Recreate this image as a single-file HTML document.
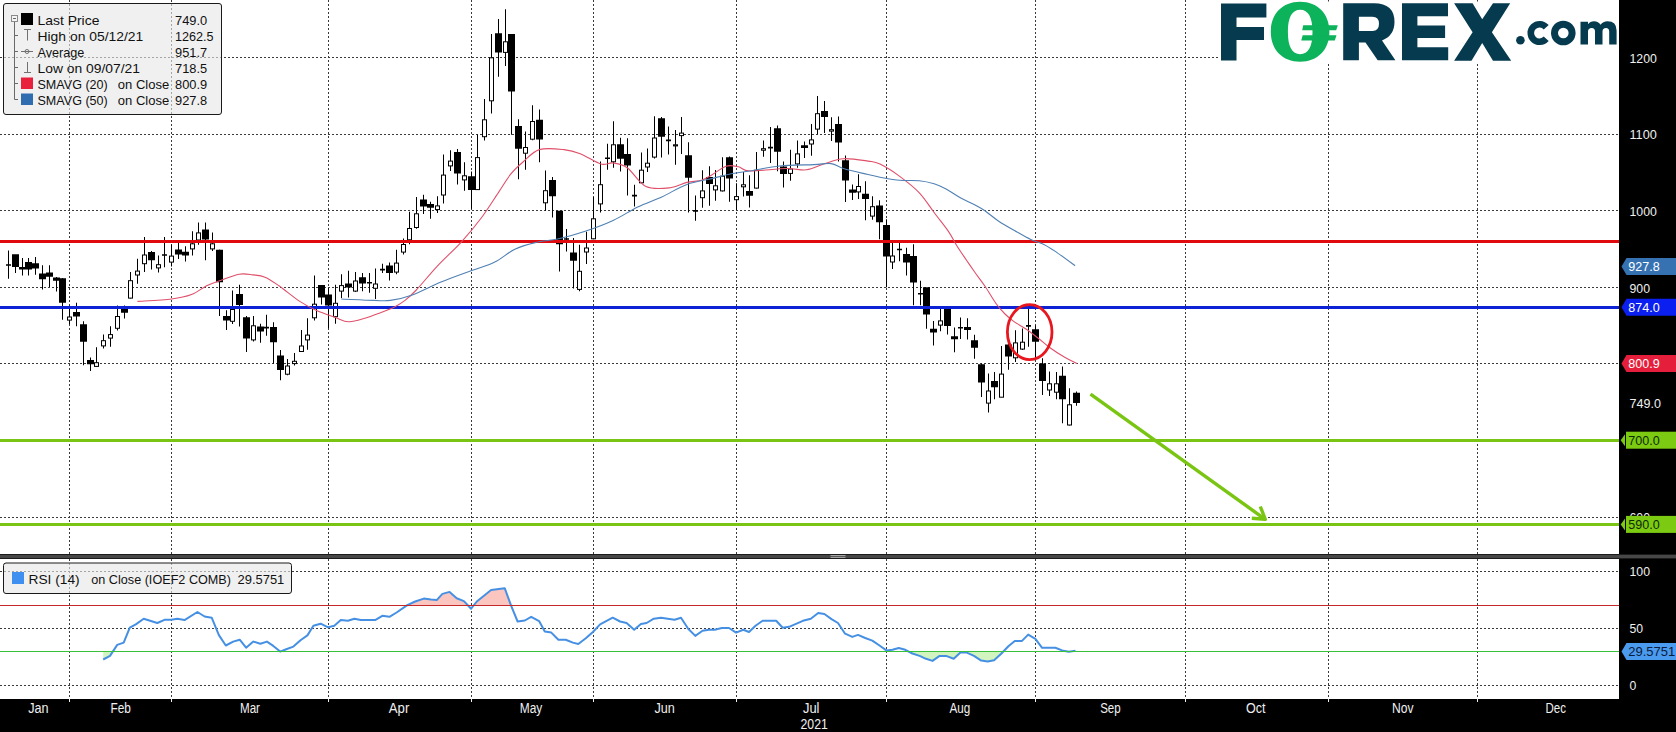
<!DOCTYPE html>
<html><head><meta charset="utf-8"><title>chart</title>
<style>html,body{margin:0;padding:0;background:#000;width:1676px;height:732px;overflow:hidden}</style>
</head><body>
<svg width="1676" height="732" viewBox="0 0 1676 732" style="display:block">
<defs><clipPath id="clipMain"><rect x="0" y="0" width="1619" height="554"/></clipPath><clipPath id="clipOver"><rect x="0" y="558" width="1619" height="47.3"/></clipPath><clipPath id="clipUnder"><rect x="0" y="651.3" width="1619" height="47"/></clipPath></defs>
<rect x="0" y="0" width="1676" height="732" fill="#000"/>
<rect x="0" y="0" width="1619" height="554" fill="#fff"/>
<rect x="0" y="559" width="1619" height="140" fill="#fff"/>
<rect x="0" y="554" width="1676" height="5" fill="#1c1c1c"/>
<rect x="0" y="555" width="1676" height="3" fill="#474747"/>
<path d="M830.5,555.6H845.5M830.5,557.4H845.5" stroke="#c8c8c8" stroke-width="0.8"/>
<path d="M69.5,0V554M69.5,559V702M171.5,0V554M171.5,559V702M328.5,0V554M328.5,559V702M471.5,0V554M471.5,559V702M593.5,0V554M593.5,559V702M736.5,0V554M736.5,559V702M886.5,0V554M886.5,559V702M1035.5,0V554M1035.5,559V702M1185.5,0V554M1185.5,559V702M1328.5,0V554M1328.5,559V702M1477.5,0V554M1477.5,559V702M0,57.5H1619M0,134.5H1619M0,210.5H1619M0,287.5H1619M0,363.5H1619M0,440.5H1619M0,517.5H1619M0,571.5H1619M0,628.5H1619M0,685.5H1619" stroke="#3a3a3a" stroke-width="1" stroke-dasharray="2,2" fill="none"/>
<path d="M69.5,699V702M171.5,699V702M328.5,699V702M471.5,699V702M593.5,699V702M736.5,699V702M886.5,699V702M1035.5,699V702M1185.5,699V702M1328.5,699V702M1477.5,699V702" stroke="#f0f0f0" stroke-width="1"/>
<polygon points="103.2,659.5 110,655.9 117.2,644.9 123.7,642.6 129.8,627.7 135.8,624.4 143.7,618.7 157.3,623 164.5,619.8 171.3,619.8 177.4,618.7 184.5,620.1 197.4,612 204.6,616.5 211.7,617.7 218.9,635.1 225.8,645.5 233.2,641.6 239.7,639.7 246.1,647.7 253.3,641.6 260.4,643.7 266.9,641.6 273.3,645.9 280.2,651.6 286.2,649.2 293.4,646.6 300.5,640.2 307.4,635.4 313.4,625.8 320.6,623.7 328.2,627.3 334.3,625.8 340.8,620.1 347.9,620.8 354.4,618.7 360.8,620.1 375.1,620.1 382.3,615.8 389.4,616.8 396.6,612.5 407.3,605.1 415.2,601.5 423.8,598.6 431,599.6 436.7,600.1 442.4,593.9 449.6,591.9 456.7,598.2 463.9,601.1 471.1,608.7 476.8,601.5 491.1,590 504.7,588.2 511.2,605.8 517.6,621.5 524.8,620.5 531.2,616.8 539.1,621.1 544.8,631.6 551.3,632.6 558.4,639.7 565.7,639.7 572.9,642.6 578.3,644 585.8,638.3 592.9,632 600.1,624.4 612.7,617.7 620.1,621.5 626.6,623 634.2,629.7 640.9,624 646.6,623 653.8,618.7 661,617.7 674.6,619.7 681,617.7 688.2,628.7 695.3,635.9 702.5,630.8 708.9,629.7 714.7,629.7 721.8,628 729,628 736.1,632.6 743.3,629.7 749,632 755.5,625.8 762.6,620.8 776.2,620.8 782.7,627.7 789.1,626.8 802.9,620.8 810.8,618.7 818.2,613 824.4,614 831.5,619.1 838,623 845.1,633.7 852.3,636.9 858,634.9 865.2,638 872.3,640.6 879.5,645.5 886.7,650.6 892.4,649.8 898.8,648 905.3,649.8 912.4,653.5 919.6,655.9 926,658.8 932.5,660.9 939.6,655.9 946.1,655.9 953.7,658.8 960.4,652.6 966.8,652.6 974,655.9 981.2,660.6 987.6,661.6 994.1,660.2 1001.2,653.8 1008.4,646.3 1014.8,640.9 1022,640.9 1028.2,634.6 1035.4,638.9 1042.1,647.8 1055.4,647.8 1062.1,650.4 1068.8,651.8 1075.5,650.7 1075.5,605.3 103.2,605.3" fill="#fbc6c0" clip-path="url(#clipOver)"/>
<polygon points="103.2,659.5 110,655.9 117.2,644.9 123.7,642.6 129.8,627.7 135.8,624.4 143.7,618.7 157.3,623 164.5,619.8 171.3,619.8 177.4,618.7 184.5,620.1 197.4,612 204.6,616.5 211.7,617.7 218.9,635.1 225.8,645.5 233.2,641.6 239.7,639.7 246.1,647.7 253.3,641.6 260.4,643.7 266.9,641.6 273.3,645.9 280.2,651.6 286.2,649.2 293.4,646.6 300.5,640.2 307.4,635.4 313.4,625.8 320.6,623.7 328.2,627.3 334.3,625.8 340.8,620.1 347.9,620.8 354.4,618.7 360.8,620.1 375.1,620.1 382.3,615.8 389.4,616.8 396.6,612.5 407.3,605.1 415.2,601.5 423.8,598.6 431,599.6 436.7,600.1 442.4,593.9 449.6,591.9 456.7,598.2 463.9,601.1 471.1,608.7 476.8,601.5 491.1,590 504.7,588.2 511.2,605.8 517.6,621.5 524.8,620.5 531.2,616.8 539.1,621.1 544.8,631.6 551.3,632.6 558.4,639.7 565.7,639.7 572.9,642.6 578.3,644 585.8,638.3 592.9,632 600.1,624.4 612.7,617.7 620.1,621.5 626.6,623 634.2,629.7 640.9,624 646.6,623 653.8,618.7 661,617.7 674.6,619.7 681,617.7 688.2,628.7 695.3,635.9 702.5,630.8 708.9,629.7 714.7,629.7 721.8,628 729,628 736.1,632.6 743.3,629.7 749,632 755.5,625.8 762.6,620.8 776.2,620.8 782.7,627.7 789.1,626.8 802.9,620.8 810.8,618.7 818.2,613 824.4,614 831.5,619.1 838,623 845.1,633.7 852.3,636.9 858,634.9 865.2,638 872.3,640.6 879.5,645.5 886.7,650.6 892.4,649.8 898.8,648 905.3,649.8 912.4,653.5 919.6,655.9 926,658.8 932.5,660.9 939.6,655.9 946.1,655.9 953.7,658.8 960.4,652.6 966.8,652.6 974,655.9 981.2,660.6 987.6,661.6 994.1,660.2 1001.2,653.8 1008.4,646.3 1014.8,640.9 1022,640.9 1028.2,634.6 1035.4,638.9 1042.1,647.8 1055.4,647.8 1062.1,650.4 1068.8,651.8 1075.5,650.7 1075.5,651.3 103.2,651.3" fill="#d2f5c0" clip-path="url(#clipUnder)"/>
<polyline points="103.2,659.5 110,655.9 117.2,644.9 123.7,642.6 129.8,627.7 135.8,624.4 143.7,618.7 157.3,623 164.5,619.8 171.3,619.8 177.4,618.7 184.5,620.1 197.4,612 204.6,616.5 211.7,617.7 218.9,635.1 225.8,645.5 233.2,641.6 239.7,639.7 246.1,647.7 253.3,641.6 260.4,643.7 266.9,641.6 273.3,645.9 280.2,651.6 286.2,649.2 293.4,646.6 300.5,640.2 307.4,635.4 313.4,625.8 320.6,623.7 328.2,627.3 334.3,625.8 340.8,620.1 347.9,620.8 354.4,618.7 360.8,620.1 375.1,620.1 382.3,615.8 389.4,616.8 396.6,612.5 407.3,605.1 415.2,601.5 423.8,598.6 431,599.6 436.7,600.1 442.4,593.9 449.6,591.9 456.7,598.2 463.9,601.1 471.1,608.7 476.8,601.5 491.1,590 504.7,588.2 511.2,605.8 517.6,621.5 524.8,620.5 531.2,616.8 539.1,621.1 544.8,631.6 551.3,632.6 558.4,639.7 565.7,639.7 572.9,642.6 578.3,644 585.8,638.3 592.9,632 600.1,624.4 612.7,617.7 620.1,621.5 626.6,623 634.2,629.7 640.9,624 646.6,623 653.8,618.7 661,617.7 674.6,619.7 681,617.7 688.2,628.7 695.3,635.9 702.5,630.8 708.9,629.7 714.7,629.7 721.8,628 729,628 736.1,632.6 743.3,629.7 749,632 755.5,625.8 762.6,620.8 776.2,620.8 782.7,627.7 789.1,626.8 802.9,620.8 810.8,618.7 818.2,613 824.4,614 831.5,619.1 838,623 845.1,633.7 852.3,636.9 858,634.9 865.2,638 872.3,640.6 879.5,645.5 886.7,650.6 892.4,649.8 898.8,648 905.3,649.8 912.4,653.5 919.6,655.9 926,658.8 932.5,660.9 939.6,655.9 946.1,655.9 953.7,658.8 960.4,652.6 966.8,652.6 974,655.9 981.2,660.6 987.6,661.6 994.1,660.2 1001.2,653.8 1008.4,646.3 1014.8,640.9 1022,640.9 1028.2,634.6 1035.4,638.9 1042.1,647.8 1055.4,647.8 1062.1,650.4 1068.8,651.8 1075.5,650.7" fill="none" stroke="#4690e4" stroke-width="2" stroke-linejoin="round"/>
<path d="M0,605.5H1619" stroke="#c42828" stroke-width="1"/>
<path d="M0,651.5H1619" stroke="#38c038" stroke-width="1"/>
<g clip-path="url(#clipMain)">
<path d="M8,250.5h1V278.8h-1ZM6,264.2h5v1.6h-5ZM15,254.2h1V273.0h-1ZM12,254.2h7v12.7h-7ZM22,258.0h1V275.5h-1ZM19,266.9h7v2.6h-7ZM28,258.0h1V275.5h-1ZM25,262.0h7v7.5h-7ZM35,257.0h1V274.7h-1ZM32,263.2h7v5.3h-7ZM42,265.2h1V289.4h-1ZM39,273.4h7v5.8h-7ZM49,265.2h1V287.0h-1ZM46,272.4h7v4.3h-7ZM56,277.0h1V291.5h-1ZM53,277.5h7v3.3h-7ZM62,278.0h1V319.8h-1ZM59,278.2h7v24.5h-7ZM69,305.8h1V324.3h-1ZM76,302.7h1V326.3h-1ZM73,312.0h7v4.5h-7ZM83,321.2h1V365.2h-1ZM80,324.3h7v17.4h-7ZM90,357.5h1V371.0h-1ZM87,360.0h7v4.2h-7ZM96,347.2h1V366.9h-1ZM103,334.5h1V348.4h-1ZM110,326.3h1V346.8h-1ZM117,305.4h1V330.4h-1ZM124,305.4h1V318.5h-1ZM121,307.9h7v4.9h-7ZM130,272.0h1V298.6h-1ZM137,258.7h1V283.7h-1ZM144,237.0h1V271.9h-1ZM151,251.0h1V269.6h-1ZM148,252.1h7v8.2h-7ZM158,255.6h1V272.6h-1ZM164,237.0h1V267.2h-1ZM162,254.2h5v1.6h-5ZM171,244.7h1V266.5h-1ZM178,242.9h1V259.1h-1ZM175,249.4h7v5.1h-7ZM185,246.3h1V261.4h-1ZM182,251.7h7v3.9h-7ZM192,231.3h1V255.6h-1ZM198,222.4h1V244.7h-1ZM205,222.4h1V260.3h-1ZM202,229.4h7v10.0h-7ZM212,232.4h1V251.0h-1ZM219,249.4h1V316.0h-1ZM216,249.8h7v32.5h-7ZM226,310.2h1V330.0h-1ZM223,316.0h7v4.6h-7ZM232,290.5h1V324.1h-1ZM239,284.7h1V326.4h-1ZM236,294.0h7v11.1h-7ZM246,316.0h1V352.0h-1ZM243,317.2h7v21.3h-7ZM253,316.0h1V341.5h-1ZM260,323.7h1V342.7h-1ZM257,326.4h7v5.2h-7ZM266,314.8h1V335.7h-1ZM264,326.8h5v1.6h-5ZM273,322.3h1V363.6h-1ZM270,326.9h7v15.3h-7ZM280,350.1h1V380.3h-1ZM277,355.5h7v14.6h-7ZM287,359.0h1V375.2h-1ZM294,353.1h1V365.5h-1ZM301,330.0h1V352.0h-1ZM307,318.3h1V349.7h-1ZM314,275.4h1V320.6h-1ZM321,285.8h1V304.4h-1ZM318,285.1h7v12.3h-7ZM328,288.1h1V328.3h-1ZM325,294.4h7v11.1h-7ZM335,284.7h1V323.7h-1ZM341,274.2h1V298.1h-1ZM348,270.7h1V297.4h-1ZM345,283.5h7v3.9h-7ZM355,271.9h1V292.1h-1ZM362,273.0h1V291.2h-1ZM359,277.2h7v6.3h-7ZM369,273.0h1V292.8h-1ZM367,282.0h5v1.6h-5ZM375,268.4h1V299.0h-1ZM382,263.8h1V273.0h-1ZM380,268.8h5v1.6h-5ZM389,262.6h1V280.5h-1ZM386,265.6h7v7.4h-7ZM396,249.8h1V274.2h-1ZM403,238.4h1V254.5h-1ZM409,211.7h1V244.2h-1ZM416,197.1h1V228.7h-1ZM423,194.8h1V214.0h-1ZM420,199.4h7v7.0h-7ZM430,201.7h1V218.7h-1ZM427,204.0h7v3.8h-7ZM437,196.2h1V212.9h-1ZM443,154.4h1V203.6h-1ZM450,150.2h1V171.1h-1ZM457,149.0h1V184.5h-1ZM454,152.0h7v21.4h-7ZM464,162.3h1V190.8h-1ZM471,171.5h1V208.7h-1ZM468,176.2h7v13.9h-7ZM477,134.4h1V189.7h-1ZM484,99.1h1V140.6h-1ZM491,33.9h1V113.6h-1ZM498,18.9h1V76.7h-1ZM495,33.2h7v19.2h-7ZM505,9.3h1V65.9h-1ZM511,33.9h1V134.7h-1ZM508,33.9h7v57.6h-7ZM518,119.3h1V179.2h-1ZM515,125.9h7v22.9h-7ZM525,131.5h1V169.7h-1ZM532,105.2h1V140.2h-1ZM539,109.6h1V162.3h-1ZM536,119.7h7v19.9h-7ZM545,170.5h1V210.7h-1ZM552,177.0h1V217.5h-1ZM549,180.0h7v16.2h-7ZM559,210.7h1V271.6h-1ZM556,210.7h7v33.6h-7ZM566,229.0h1V251.6h-1ZM564,238.2h5v1.6h-5ZM573,238.0h1V288.5h-1ZM570,252.5h7v8.2h-7ZM579,244.8h1V291.3h-1ZM586,231.7h1V264.0h-1ZM593,197.0h1V239.3h-1ZM600,161.5h1V212.6h-1ZM607,143.7h1V169.7h-1ZM605,157.4h5v1.6h-5ZM613,121.3h1V167.8h-1ZM620,137.7h1V171.6h-1ZM617,144.3h7v14.4h-7ZM627,138.3h1V195.6h-1ZM624,154.1h7v11.5h-7ZM634,184.7h1V206.6h-1ZM632,194.8h5v1.6h-5ZM641,152.5h1V183.3h-1ZM647,148.4h1V172.0h-1ZM654,116.2h1V158.6h-1ZM661,117.0h1V157.6h-1ZM658,118.3h7v18.4h-7ZM668,126.5h1V154.5h-1ZM666,139.6h5v1.6h-5ZM675,130.0h1V164.8h-1ZM681,117.0h1V153.9h-1ZM688,142.3h1V212.5h-1ZM685,155.2h7v22.5h-7ZM695,195.5h1V220.7h-1ZM693,210.1h5v1.6h-5ZM702,170.3h1V207.8h-1ZM709,166.2h1V205.8h-1ZM706,177.1h7v6.8h-7ZM715,169.9h1V200.7h-1ZM722,157.2h1V191.4h-1ZM729,156.6h1V201.7h-1ZM726,157.2h7v21.3h-7ZM736,183.2h1V209.9h-1ZM743,172.0h1V196.6h-1ZM749,175.3h1V207.5h-1ZM746,191.0h7v4.8h-7ZM756,152.1h1V188.6h-1ZM763,140.5h1V156.8h-1ZM770,127.1h1V163.0h-1ZM768,146.8h5v1.6h-5ZM777,125.5h1V171.2h-1ZM774,128.2h7v23.5h-7ZM783,161.6h1V187.6h-1ZM780,166.5h7v7.4h-7ZM790,149.7h1V180.8h-1ZM797,140.5h1V167.7h-1ZM804,141.5h1V157.9h-1ZM801,145.2h7v2.8h-7ZM811,124.1h1V155.8h-1ZM817,96.0h1V134.3h-1ZM824,100.9h1V132.9h-1ZM821,111.1h7v5.8h-7ZM831,117.3h1V141.1h-1ZM838,116.5h1V161.6h-1ZM835,124.1h7v18.4h-7ZM845,155.4h1V201.9h-1ZM842,160.3h7v20.1h-7ZM852,184.5h1V199.9h-1ZM849,189.6h7v3.1h-7ZM858,174.3h1V198.9h-1ZM865,181.3h1V220.2h-1ZM862,193.7h7v5.2h-7ZM872,196.3h1V219.7h-1ZM879,200.2h1V239.2h-1ZM876,205.4h7v16.9h-7ZM886,219.2h1V287.2h-1ZM883,224.9h7v31.6h-7ZM892,243.0h1V269.0h-1ZM899,243.0h1V261.2h-1ZM897,248.7h5v1.6h-5ZM906,247.7h1V275.5h-1ZM903,254.0h7v8.5h-7ZM913,244.3h1V305.3h-1ZM910,256.0h7v26.5h-7ZM920,280.7h1V305.3h-1ZM918,292.9h5v1.6h-5ZM926,287.2h1V328.7h-1ZM923,287.2h7v27.2h-7ZM933,320.9h1V345.6h-1ZM930,328.7h7v3.9h-7ZM940,308.5h1V331.3h-1ZM947,308.5h1V334.4h-1ZM944,308.5h7v17.6h-7ZM954,327.4h1V352.2h-1ZM951,336.2h7v3.1h-7ZM960,317.6h1V339.0h-1ZM958,326.9h5v1.6h-5ZM967,318.3h1V339.5h-1ZM964,327.0h7v2.9h-7ZM974,334.7h1V358.8h-1ZM971,340.2h7v7.6h-7ZM981,363.6h1V397.0h-1ZM978,364.2h7v18.2h-7ZM988,373.6h1V412.4h-1ZM994,371.9h1V399.2h-1ZM991,381.1h7v6.1h-7ZM1001,346.1h1V397.0h-1ZM1008,343.4h1V369.7h-1ZM1005,344.5h7v12.1h-7ZM1015,330.3h1V362.0h-1ZM1022,328.6h1V350.0h-1ZM1028,308.4h1V346.7h-1ZM1026,325.1h5v1.6h-5ZM1035,325.5h1V359.9h-1ZM1032,329.2h7v12.5h-7ZM1042,358.3h1V394.9h-1ZM1039,363.6h7v17.5h-7ZM1049,371.4h1V395.9h-1ZM1056,371.9h1V399.2h-1ZM1062,366.4h1V423.3h-1ZM1059,375.8h7v23.4h-7ZM1069,388.3h1V425.5h-1ZM1076,391.6h1V405.8h-1ZM1073,392.7h7v10.3h-7Z" fill="#000"/>
<rect x="67.5" y="317.0" width="4" height="3.1" fill="#fff" stroke="#000" stroke-width="1"/><rect x="94.5" y="362.7" width="4" height="3.7" fill="#fff" stroke="#000" stroke-width="1"/><rect x="101.5" y="340.7" width="4" height="5.2" fill="#fff" stroke="#000" stroke-width="1"/><rect x="108.5" y="334.6" width="4" height="3.5" fill="#fff" stroke="#000" stroke-width="1"/><rect x="115.5" y="316.5" width="4" height="11.8" fill="#fff" stroke="#000" stroke-width="1"/><rect x="128.5" y="280.7" width="4" height="17.4" fill="#fff" stroke="#000" stroke-width="1"/><rect x="135.5" y="271.1" width="4" height="3.9" fill="#fff" stroke="#000" stroke-width="1"/><rect x="142.5" y="255.0" width="4" height="8.7" fill="#fff" stroke="#000" stroke-width="1"/><rect x="156.5" y="264.7" width="4" height="3.2" fill="#fff" stroke="#000" stroke-width="1"/><rect x="169.5" y="256.1" width="4" height="6.0" fill="#fff" stroke="#000" stroke-width="1"/><rect x="190.5" y="243.8" width="4" height="5.1" fill="#fff" stroke="#000" stroke-width="1"/><rect x="196.5" y="232.9" width="4" height="7.1" fill="#fff" stroke="#000" stroke-width="1"/><rect x="210.5" y="243.8" width="4" height="5.1" fill="#fff" stroke="#000" stroke-width="1"/><rect x="230.5" y="309.5" width="4" height="11.8" fill="#fff" stroke="#000" stroke-width="1"/><rect x="251.5" y="325.8" width="4" height="14.1" fill="#fff" stroke="#000" stroke-width="1"/><rect x="285.5" y="366.0" width="4" height="8.2" fill="#fff" stroke="#000" stroke-width="1"/><rect x="292.5" y="361.3" width="4" height="2.3" fill="#fff" stroke="#000" stroke-width="1"/><rect x="299.5" y="346.0" width="4" height="5.5" fill="#fff" stroke="#000" stroke-width="1"/><rect x="305.5" y="335.1" width="4" height="4.8" fill="#fff" stroke="#000" stroke-width="1"/><rect x="312.5" y="304.2" width="4" height="13.6" fill="#fff" stroke="#000" stroke-width="1"/><rect x="333.5" y="303.3" width="4" height="13.4" fill="#fff" stroke="#000" stroke-width="1"/><rect x="339.5" y="285.6" width="4" height="5.5" fill="#fff" stroke="#000" stroke-width="1"/><rect x="353.5" y="281.0" width="4" height="10.1" fill="#fff" stroke="#000" stroke-width="1"/><rect x="373.5" y="284.0" width="4" height="4.3" fill="#fff" stroke="#000" stroke-width="1"/><rect x="394.5" y="263.1" width="4" height="9.0" fill="#fff" stroke="#000" stroke-width="1"/><rect x="401.5" y="244.5" width="4" height="7.6" fill="#fff" stroke="#000" stroke-width="1"/><rect x="407.5" y="228.5" width="4" height="11.3" fill="#fff" stroke="#000" stroke-width="1"/><rect x="414.5" y="213.8" width="4" height="13.7" fill="#fff" stroke="#000" stroke-width="1"/><rect x="435.5" y="205.9" width="4" height="3.7" fill="#fff" stroke="#000" stroke-width="1"/><rect x="441.5" y="175.1" width="4" height="19.9" fill="#fff" stroke="#000" stroke-width="1"/><rect x="448.5" y="161.1" width="4" height="4.8" fill="#fff" stroke="#000" stroke-width="1"/><rect x="462.5" y="175.8" width="4" height="4.1" fill="#fff" stroke="#000" stroke-width="1"/><rect x="475.5" y="157.6" width="4" height="32.0" fill="#fff" stroke="#000" stroke-width="1"/><rect x="482.5" y="119.8" width="4" height="16.9" fill="#fff" stroke="#000" stroke-width="1"/><rect x="489.5" y="57.8" width="4" height="43.0" fill="#fff" stroke="#000" stroke-width="1"/><rect x="503.5" y="41.8" width="4" height="10.6" fill="#fff" stroke="#000" stroke-width="1"/><rect x="523.5" y="147.5" width="4" height="5.7" fill="#fff" stroke="#000" stroke-width="1"/><rect x="530.5" y="121.5" width="4" height="17.7" fill="#fff" stroke="#000" stroke-width="1"/><rect x="543.5" y="190.7" width="4" height="12.1" fill="#fff" stroke="#000" stroke-width="1"/><rect x="577.5" y="271.3" width="4" height="18.1" fill="#fff" stroke="#000" stroke-width="1"/><rect x="584.5" y="248.0" width="4" height="4.0" fill="#fff" stroke="#000" stroke-width="1"/><rect x="591.5" y="218.8" width="4" height="20.0" fill="#fff" stroke="#000" stroke-width="1"/><rect x="598.5" y="184.7" width="4" height="19.2" fill="#fff" stroke="#000" stroke-width="1"/><rect x="611.5" y="144.8" width="4" height="17.0" fill="#fff" stroke="#000" stroke-width="1"/><rect x="639.5" y="170.2" width="4" height="12.6" fill="#fff" stroke="#000" stroke-width="1"/><rect x="645.5" y="163.2" width="4" height="3.8" fill="#fff" stroke="#000" stroke-width="1"/><rect x="652.5" y="138.0" width="4" height="19.1" fill="#fff" stroke="#000" stroke-width="1"/><rect x="673.5" y="144.8" width="4" height="1.1" fill="#fff" stroke="#000" stroke-width="1"/><rect x="679.5" y="133.1" width="4" height="2.5" fill="#fff" stroke="#000" stroke-width="1"/><rect x="700.5" y="190.9" width="4" height="6.8" fill="#fff" stroke="#000" stroke-width="1"/><rect x="713.5" y="185.8" width="4" height="4.1" fill="#fff" stroke="#000" stroke-width="1"/><rect x="720.5" y="176.2" width="4" height="14.7" fill="#fff" stroke="#000" stroke-width="1"/><rect x="734.5" y="196.6" width="4" height="3.1" fill="#fff" stroke="#000" stroke-width="1"/><rect x="741.5" y="184.8" width="4" height="2.0" fill="#fff" stroke="#000" stroke-width="1"/><rect x="754.5" y="170.3" width="4" height="17.8" fill="#fff" stroke="#000" stroke-width="1"/><rect x="761.5" y="148.7" width="4" height="1.5" fill="#fff" stroke="#000" stroke-width="1"/><rect x="788.5" y="169.0" width="4" height="4.4" fill="#fff" stroke="#000" stroke-width="1"/><rect x="795.5" y="153.9" width="4" height="10.0" fill="#fff" stroke="#000" stroke-width="1"/><rect x="809.5" y="139.9" width="4" height="4.1" fill="#fff" stroke="#000" stroke-width="1"/><rect x="815.5" y="113.7" width="4" height="15.4" fill="#fff" stroke="#000" stroke-width="1"/><rect x="829.5" y="129.7" width="4" height="1.4" fill="#fff" stroke="#000" stroke-width="1"/><rect x="856.5" y="186.5" width="4" height="5.4" fill="#fff" stroke="#000" stroke-width="1"/><rect x="870.5" y="206.7" width="4" height="9.4" fill="#fff" stroke="#000" stroke-width="1"/><rect x="890.5" y="256.0" width="4" height="6.0" fill="#fff" stroke="#000" stroke-width="1"/><rect x="938.5" y="320.9" width="4" height="4.2" fill="#fff" stroke="#000" stroke-width="1"/><rect x="986.5" y="391.0" width="4" height="12.1" fill="#fff" stroke="#000" stroke-width="1"/><rect x="999.5" y="374.1" width="4" height="23.1" fill="#fff" stroke="#000" stroke-width="1"/><rect x="1013.5" y="342.9" width="4" height="14.9" fill="#fff" stroke="#000" stroke-width="1"/><rect x="1020.5" y="342.2" width="4" height="6.9" fill="#fff" stroke="#000" stroke-width="1"/><rect x="1047.5" y="383.8" width="4" height="6.2" fill="#fff" stroke="#000" stroke-width="1"/><rect x="1054.5" y="383.8" width="4" height="8.4" fill="#fff" stroke="#000" stroke-width="1"/><rect x="1067.5" y="404.8" width="4" height="20.2" fill="#fff" stroke="#000" stroke-width="1"/>
<rect x="0" y="240" width="1619" height="3" fill="#e00a0e"/>
<rect x="0" y="306" width="1619" height="3" fill="#0c22d4"/>
<rect x="0" y="439" width="1619" height="3" fill="#7ac514"/>
<rect x="0" y="523" width="1619" height="3" fill="#7ac514"/>
<path d="M137.4,301.4C143.1,301.0 162.8,300.1 171.8,299C180.8,297.9 185.7,296.8 191.5,294.6C197.3,292.4 201.8,288.2 206.6,285.8C211.4,283.4 215.1,282.4 220.5,280.5C225.9,278.6 233.7,275.1 239.1,274.2C244.5,273.3 248.7,274.4 253,274.9C257.3,275.4 260.7,275.4 265,277.2C269.3,279.0 273.2,281.8 279,285.8C284.8,289.8 293.6,297.3 299.8,301.4C306.0,305.5 310.2,307.6 316,310.2C321.8,312.8 329.3,315.3 334.7,317.2C340.1,319.1 343.6,321.6 348.6,321.8C353.6,322.0 359.4,319.9 364.8,318.3C370.2,316.8 376.1,314.4 381.1,312.5C386.1,310.6 391.0,308.7 395,306.7C399.0,304.7 401.4,303.2 405,300.4C408.6,297.6 410.9,295.7 416.3,290C421.7,284.3 429.6,274.3 437.1,266.3C444.6,258.3 454.0,250.0 461.5,241.8C469.0,233.6 475.9,225.2 482,217C488.1,208.8 493.6,199.7 498.4,192.6C503.2,185.5 506.6,179.3 510.7,174.2C514.8,169.1 518.2,166.1 523,162C527.8,157.9 532.5,151.7 539.3,149.6C546.1,147.5 557.2,148.9 564,149.6C570.8,150.3 574.2,151.3 580.3,153.7C586.4,156.1 595.3,162.4 600.8,164C606.2,165.6 608.5,162.3 613,163C617.5,163.7 622.0,164.1 627.5,168C633.0,171.9 638.8,183.2 646,186.5C653.2,189.8 663.7,188.4 670.5,187.7C677.3,187.0 681.7,183.7 686.9,182.4C692.1,181.2 697.4,181.4 701.5,180.2C705.6,179.0 707.6,177.3 711.7,175C715.8,172.7 721.7,167.6 726.1,166.2C730.5,164.8 734.4,166.0 738.4,166.8C742.4,167.6 742.1,170.7 750,171C757.9,171.3 776.6,168.7 786,168.5C795.4,168.3 800.2,170.6 806.5,169.8C812.8,169.1 817.6,165.8 823.7,164C829.9,162.2 836.0,159.2 843.4,158.7C850.8,158.2 861.9,160.2 868,161.1C874.1,162.0 874.7,161.5 880,164.1C885.3,166.7 893.2,171.6 899.7,176.4C906.2,181.2 913.6,186.8 919.3,192.8C925.0,198.8 929.2,205.9 934.1,212.5C939.0,219.1 945.1,226.5 948.9,232.1C952.7,237.7 954.1,241.4 957,246C959.9,250.6 963.0,255.1 966,259.5C969.0,263.9 971.8,267.9 975,272.5C978.2,277.1 982.0,281.8 985.5,287C989.0,292.2 992.8,299.0 996,303.5C999.2,308.0 1002.0,311.0 1005,314C1008.0,317.0 1010.5,319.1 1014,321.6C1017.5,324.1 1022.0,326.3 1026,329C1030.0,331.7 1034.0,334.9 1038,338C1042.0,341.1 1045.5,344.5 1050,347.8C1054.5,351.1 1060.6,355.0 1065.1,357.6C1069.6,360.2 1075.1,362.6 1077.1,363.6" fill="none" stroke="#e0506a" stroke-width="1.1"/>
<path d="M341.2,299C346.7,299.2 365.9,300.2 374.1,300.4C382.3,300.6 384.0,301.3 390.4,300.4C396.8,299.5 403.9,298.1 412.3,295C420.7,291.9 431.1,286.1 441,282C450.9,277.9 462.8,273.8 471.7,270.5C480.6,267.2 487.1,265.9 494.3,262.3C501.5,258.8 508.0,252.5 514.8,249.2C521.6,245.9 527.7,244.4 535.2,242.6C542.7,240.8 551.6,240.3 559.8,238.5C568.0,236.7 575.5,234.6 584.4,231.6C593.3,228.6 604.2,224.6 613.1,220.5C622.0,216.4 629.5,211.0 637.7,207C645.9,203.0 654.1,200.5 662.3,196.7C670.5,192.9 678.3,187.5 686.9,184.4C695.5,181.3 706.6,179.8 713.8,178.1C721.0,176.4 724.2,175.2 730.2,174C736.2,172.8 741.8,172.3 750,171C758.2,169.7 768.9,167.1 779.5,166C790.1,164.9 805.3,165.0 813.9,164.6C822.5,164.2 826.2,162.9 831.1,163.6C836.0,164.2 838.1,166.9 843.4,168.5C848.7,170.1 857.0,172.0 863.1,173.4C869.2,174.8 873.9,176.0 880,177.2C886.1,178.3 893.2,179.7 899.7,180.3C906.2,180.9 913.6,180.2 919.3,180.8C925.0,181.4 929.7,182.5 934.1,183.8C938.5,185.1 941.2,186.4 945.6,188.7C950.0,191.0 955.4,195.0 960.3,197.7C965.2,200.4 971.0,202.9 975.1,205.1C979.2,207.3 981.1,208.2 984.9,210.8C988.7,213.4 993.1,217.4 998,220.7C1002.9,224.0 1008.9,227.4 1014.4,230.5C1019.9,233.6 1025.9,237.2 1030.8,239.5C1035.7,241.8 1039.5,242.2 1043.9,244.4C1048.3,246.6 1051.8,249.1 1057,252.6C1062.2,256.1 1072.1,263.5 1075.1,265.7" fill="none" stroke="#5080b4" stroke-width="1.1"/>
<ellipse cx="1029.7" cy="332.1" rx="22.3" ry="27.5" fill="none" stroke="#e8161e" stroke-width="2.8"/>
<path d="M1090.5,394.2L1264.5,518.8" stroke="#79c512" stroke-width="3.4" fill="none"/>
<path d="M1260.3,506.5L1265.3,519.3L1251.8,518.3" stroke="#79c512" stroke-width="3.4" fill="none" stroke-linejoin="round" stroke-linecap="butt"/>
</g>
<rect x="3.5" y="3.5" width="218" height="111" rx="2.5" fill="#e6e6e6" fill-opacity="0.62" stroke="#1a1a1a" stroke-width="1"/>
<path d="M14.5,21.5V99.5H18M14.5,35.5H18M14.5,51.5H18M14.5,67.5H18M14.5,83.5H18" stroke="#6a6a6a" stroke-width="1" fill="none"/>
<rect x="11.5" y="15.5" width="6" height="6" fill="#f4f4f4" stroke="#8a8a8a" stroke-width="1"/><path d="M13,18.5H16" stroke="#666" stroke-width="1"/>
<rect x="21" y="13" width="12" height="12" fill="#000"/>
<path d="M24,29.5H31M27.5,29.5V40.5" stroke="#707070" stroke-width="1" fill="none"/>
<path d="M21,51.5H33" stroke="#707070" stroke-width="1" fill="none"/><circle cx="27" cy="51.5" r="2" fill="none" stroke="#707070" stroke-width="1"/>
<path d="M27.5,62V73M24,72.5H31" stroke="#707070" stroke-width="1" fill="none"/>
<rect x="21" y="77.5" width="12" height="11.5" fill="#e8203c"/>
<rect x="21" y="93.5" width="12" height="11.5" fill="#2f6db0"/>
<text x="37.5" y="24.8" font-family="Liberation Sans, sans-serif" font-size="12.6" fill="#111" textLength="61.9" lengthAdjust="spacingAndGlyphs" style="white-space:pre">Last Price</text>
<text x="175" y="24.8" font-family="Liberation Sans, sans-serif" font-size="12.6" fill="#111" textLength="32.1" lengthAdjust="spacingAndGlyphs" style="white-space:pre">749.0</text>
<text x="37.5" y="40.8" font-family="Liberation Sans, sans-serif" font-size="12.6" fill="#111" textLength="105.8" lengthAdjust="spacingAndGlyphs" style="white-space:pre">High on 05/12/21</text>
<text x="175" y="40.8" font-family="Liberation Sans, sans-serif" font-size="12.6" fill="#111" textLength="38.6" lengthAdjust="spacingAndGlyphs" style="white-space:pre">1262.5</text>
<text x="37.5" y="56.8" font-family="Liberation Sans, sans-serif" font-size="12.6" fill="#111" textLength="46.9" lengthAdjust="spacingAndGlyphs" style="white-space:pre">Average</text>
<text x="175" y="56.8" font-family="Liberation Sans, sans-serif" font-size="12.6" fill="#111" textLength="32.1" lengthAdjust="spacingAndGlyphs" style="white-space:pre">951.7</text>
<text x="37.5" y="72.8" font-family="Liberation Sans, sans-serif" font-size="12.6" fill="#111" textLength="102.5" lengthAdjust="spacingAndGlyphs" style="white-space:pre">Low on 09/07/21</text>
<text x="175" y="72.8" font-family="Liberation Sans, sans-serif" font-size="12.6" fill="#111" textLength="32.1" lengthAdjust="spacingAndGlyphs" style="white-space:pre">718.5</text>
<text x="37.5" y="88.8" font-family="Liberation Sans, sans-serif" font-size="12.6" fill="#111" textLength="70.2" lengthAdjust="spacingAndGlyphs" style="white-space:pre">SMAVG (20)</text>
<text x="117.8" y="88.8" font-family="Liberation Sans, sans-serif" font-size="12.6" fill="#111" textLength="51.4" lengthAdjust="spacingAndGlyphs" style="white-space:pre">on Close</text>
<text x="175" y="88.8" font-family="Liberation Sans, sans-serif" font-size="12.6" fill="#111" textLength="32.1" lengthAdjust="spacingAndGlyphs" style="white-space:pre">800.9</text>
<text x="37.5" y="104.8" font-family="Liberation Sans, sans-serif" font-size="12.6" fill="#111" textLength="70.2" lengthAdjust="spacingAndGlyphs" style="white-space:pre">SMAVG (50)</text>
<text x="117.8" y="104.8" font-family="Liberation Sans, sans-serif" font-size="12.6" fill="#111" textLength="51.4" lengthAdjust="spacingAndGlyphs" style="white-space:pre">on Close</text>
<text x="175" y="104.8" font-family="Liberation Sans, sans-serif" font-size="12.6" fill="#111" textLength="32.1" lengthAdjust="spacingAndGlyphs" style="white-space:pre">927.8</text>
<rect x="3.5" y="563" width="288" height="30.5" rx="2.5" fill="#e6e6e6" fill-opacity="0.62" stroke="#1a1a1a" stroke-width="1"/>
<rect x="12" y="572" width="12" height="12" fill="#3f8ff0"/>
<text x="28.5" y="583.8" font-family="Liberation Sans, sans-serif" font-size="13.5" fill="#111" textLength="51.2" lengthAdjust="spacingAndGlyphs" style="white-space:pre">RSI (14)</text>
<text x="91.3" y="583.8" font-family="Liberation Sans, sans-serif" font-size="13.5" fill="#111" textLength="139.7" lengthAdjust="spacingAndGlyphs" style="white-space:pre">on Close (IOEF2 COMB)</text>
<text x="237.5" y="583.8" font-family="Liberation Sans, sans-serif" font-size="13.5" fill="#111" textLength="46.8" lengthAdjust="spacingAndGlyphs" style="white-space:pre">29.5751</text>
<rect x="1218" y="1.5" width="401" height="62" fill="#fff"/>
<path d="M1221,3.5H1266.4V17.5H1236.5V27H1264V40H1236.5V60.4H1221Z" fill="#063a4f"/>
<path fill-rule="evenodd" d="M1270.8,31.75C1270.8,13.75 1282.52,1.75 1300.1,1.75C1317.68,1.75 1329.3999999999999,13.75 1329.3999999999999,31.75C1329.3999999999999,49.75 1317.68,61.75 1300.1,61.75C1282.52,61.75 1270.8,49.75 1270.8,31.75ZM1287.9,32C1287.9,17.35 1292.08,9.8 1300.2,9.8C1308.32,9.8 1312.5,17.35 1312.5,32C1312.5,46.65 1308.32,54.2 1300.2,54.2C1292.08,54.2 1287.9,46.65 1287.9,32Z" fill="#0db35b"/>
<path d="M1303.2,25.3H1337.8L1336.2,30.2H1302.2ZM1302.7,35.3H1336.5L1334.8,40.4H1301.2Z" fill="#0db35b"/>
<path fill-rule="evenodd" d="M1343.2,3.2H1374Q1394.5,3.2 1394.5,22Q1394.5,35.5 1382,40.5L1395.4,60.3H1377.7L1365.5,42.6H1358.9V60.3H1343.2ZM1358.9,16.7H1372.5Q1379,16.7 1379,23.8Q1379,30.9 1372.5,30.9H1358.9Z" fill="#063a4f"/>
<path d="M1402,3.2H1448V16.2H1417.4V25.4H1445.1V38H1417.4V47.2H1448.2V60.3H1402Z" fill="#063a4f"/>
<path d="M1454.1,3.2H1472.6L1482.2,19.3L1493,3.2H1510.2L1491.9,32.2L1511.2,60.7H1493L1482.2,43L1471.5,60.7H1454.1L1472.6,32.2Z" fill="#063a4f"/>
<circle cx="1520.4" cy="40.3" r="4.3" fill="#063a4f"/>
<path d="M1546.2,27.2A8.8,8.8 0 1 0 1546.2,38.8" stroke="#063a4f" stroke-width="6.6" fill="none"/>
<circle cx="1563.3" cy="33" r="8.8" stroke="#063a4f" stroke-width="7" fill="none"/>
<path d="M1580.5,44.6V21.8H1588V24.3Q1590,21.2 1594,21.2Q1598.5,21.2 1600.5,24.8Q1603,21.2 1607.5,21.2Q1616.6,21.2 1616.6,30.5V44.6H1609.2V31.6Q1609.2,28 1606,28Q1602.5,28 1602.5,31.6V44.6H1595V31.6Q1595,28 1591.8,28Q1588,28 1588,31.6V44.6Z" fill="#063a4f"/>
<text x="1629.5" y="62.8" font-family="Liberation Sans, sans-serif" font-size="13" fill="#f0f0f0" textLength="27.3" lengthAdjust="spacingAndGlyphs" style="white-space:pre">1200</text>
<text x="1629.5" y="139.4" font-family="Liberation Sans, sans-serif" font-size="13" fill="#f0f0f0" textLength="27.3" lengthAdjust="spacingAndGlyphs" style="white-space:pre">1100</text>
<text x="1629.5" y="216.1" font-family="Liberation Sans, sans-serif" font-size="13" fill="#f0f0f0" textLength="27.3" lengthAdjust="spacingAndGlyphs" style="white-space:pre">1000</text>
<text x="1629.5" y="292.7" font-family="Liberation Sans, sans-serif" font-size="13" fill="#f0f0f0" textLength="20.5" lengthAdjust="spacingAndGlyphs" style="white-space:pre">900</text>
<text x="1629.5" y="407.7" font-family="Liberation Sans, sans-serif" font-size="13" fill="#f0f0f0" textLength="31.4" lengthAdjust="spacingAndGlyphs" style="white-space:pre">749.0</text>
<text x="1629.5" y="521.6" font-family="Liberation Sans, sans-serif" font-size="13" fill="#f0f0f0" textLength="20.5" lengthAdjust="spacingAndGlyphs" style="white-space:pre">600</text>
<text x="1629.5" y="575.9" font-family="Liberation Sans, sans-serif" font-size="13" fill="#f0f0f0" textLength="20.5" lengthAdjust="spacingAndGlyphs" style="white-space:pre">100</text>
<text x="1629.5" y="632.9" font-family="Liberation Sans, sans-serif" font-size="13" fill="#f0f0f0" textLength="13.6" lengthAdjust="spacingAndGlyphs" style="white-space:pre">50</text>
<text x="1629.5" y="689.7" font-family="Liberation Sans, sans-serif" font-size="13" fill="#f0f0f0" textLength="6.8" lengthAdjust="spacingAndGlyphs" style="white-space:pre">0</text>
<polygon points="1621.5,266.4 1626.5,257.9 1676,257.9 1676,274.9 1626.5,274.9" fill="#3672b2"/>
<text x="1628.3" y="271.29999999999995" font-family="Liberation Sans, sans-serif" font-size="13.5" fill="#fff" textLength="31.4" lengthAdjust="spacingAndGlyphs" style="white-space:pre">927.8</text>
<polygon points="1621.5,307.3 1626.5,298.8 1676,298.8 1676,315.8 1626.5,315.8" fill="#0a1ff0"/>
<text x="1628.3" y="312.2" font-family="Liberation Sans, sans-serif" font-size="13.5" fill="#fff" textLength="31.4" lengthAdjust="spacingAndGlyphs" style="white-space:pre">874.0</text>
<polygon points="1621.5,363.4 1626.5,354.9 1676,354.9 1676,371.9 1626.5,371.9" fill="#e51f3b"/>
<text x="1628.3" y="368.29999999999995" font-family="Liberation Sans, sans-serif" font-size="13.5" fill="#fff" textLength="31.4" lengthAdjust="spacingAndGlyphs" style="white-space:pre">800.9</text>
<polygon points="1620.7,440.2 1625,434.2 1625,446.2" fill="#7ccb12"/>
<rect x="1626" y="431.7" width="50" height="17" fill="#7ccb12"/>
<text x="1628.3" y="445.09999999999997" font-family="Liberation Sans, sans-serif" font-size="13.5" fill="#0c2a00" textLength="31.4" lengthAdjust="spacingAndGlyphs" style="white-space:pre">700.0</text>
<polygon points="1620.7,524.4 1625,518.4 1625,530.4" fill="#7ccb12"/>
<rect x="1626" y="515.9" width="50" height="17" fill="#7ccb12"/>
<text x="1628.3" y="529.3" font-family="Liberation Sans, sans-serif" font-size="13.5" fill="#0c2a00" textLength="31.4" lengthAdjust="spacingAndGlyphs" style="white-space:pre">590.0</text>
<polygon points="1621.5,651.5 1626.5,643.0 1676,643.0 1676,660.0 1626.5,660.0" fill="#4a9af0"/>
<text x="1628.3" y="656.4" font-family="Liberation Sans, sans-serif" font-size="13.5" fill="#0b1b3a" textLength="47" lengthAdjust="spacingAndGlyphs" style="white-space:pre">29.5751</text>
<text x="28.2" y="713.2" font-family="Liberation Sans, sans-serif" font-size="14" fill="#f0f0f0" textLength="20.4" lengthAdjust="spacingAndGlyphs" style="white-space:pre">Jan</text>
<text x="110.5" y="713.2" font-family="Liberation Sans, sans-serif" font-size="14" fill="#f0f0f0" textLength="20.4" lengthAdjust="spacingAndGlyphs" style="white-space:pre">Feb</text>
<text x="240.0" y="713.2" font-family="Liberation Sans, sans-serif" font-size="14" fill="#f0f0f0" textLength="20" lengthAdjust="spacingAndGlyphs" style="white-space:pre">Mar</text>
<text x="388.8" y="713.2" font-family="Liberation Sans, sans-serif" font-size="14" fill="#f0f0f0" textLength="20.5" lengthAdjust="spacingAndGlyphs" style="white-space:pre">Apr</text>
<text x="519.8" y="713.2" font-family="Liberation Sans, sans-serif" font-size="14" fill="#f0f0f0" textLength="22.5" lengthAdjust="spacingAndGlyphs" style="white-space:pre">May</text>
<text x="654.5" y="713.2" font-family="Liberation Sans, sans-serif" font-size="14" fill="#f0f0f0" textLength="20.3" lengthAdjust="spacingAndGlyphs" style="white-space:pre">Jun</text>
<text x="803.0" y="713.2" font-family="Liberation Sans, sans-serif" font-size="14" fill="#f0f0f0" textLength="16.5" lengthAdjust="spacingAndGlyphs" style="white-space:pre">Jul</text>
<text x="949.6" y="713.2" font-family="Liberation Sans, sans-serif" font-size="14" fill="#f0f0f0" textLength="20.7" lengthAdjust="spacingAndGlyphs" style="white-space:pre">Aug</text>
<text x="1100.2" y="713.2" font-family="Liberation Sans, sans-serif" font-size="14" fill="#f0f0f0" textLength="20.5" lengthAdjust="spacingAndGlyphs" style="white-space:pre">Sep</text>
<text x="1246.0" y="713.2" font-family="Liberation Sans, sans-serif" font-size="14" fill="#f0f0f0" textLength="19.5" lengthAdjust="spacingAndGlyphs" style="white-space:pre">Oct</text>
<text x="1392.0" y="713.2" font-family="Liberation Sans, sans-serif" font-size="14" fill="#f0f0f0" textLength="21.5" lengthAdjust="spacingAndGlyphs" style="white-space:pre">Nov</text>
<text x="1545.5" y="713.2" font-family="Liberation Sans, sans-serif" font-size="14" fill="#f0f0f0" textLength="20.5" lengthAdjust="spacingAndGlyphs" style="white-space:pre">Dec</text>
<text x="800.5" y="728.8" font-family="Liberation Sans, sans-serif" font-size="14" fill="#f0f0f0" textLength="27.3" lengthAdjust="spacingAndGlyphs" style="white-space:pre">2021</text>
</svg>
</body></html>
